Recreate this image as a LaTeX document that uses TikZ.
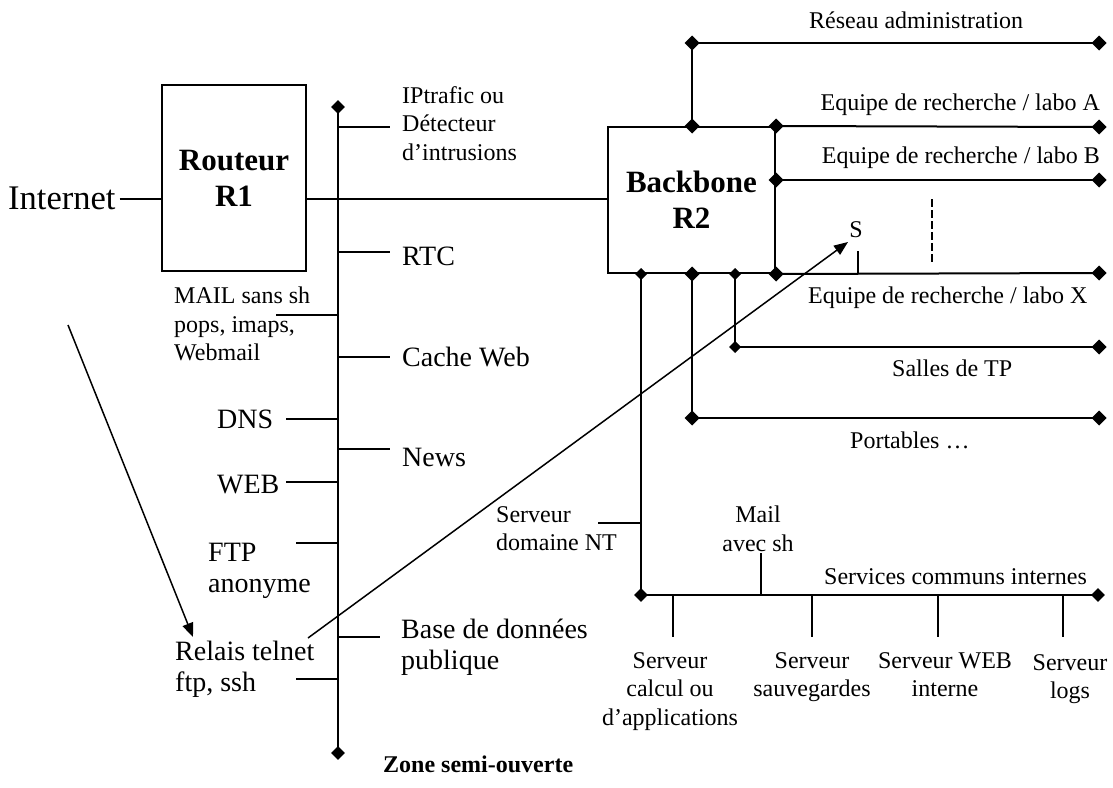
\documentclass[tikz,border=0pt]{standalone}
\usepackage{fontspec}
\setmainfont{Liberation Serif}
\usetikzlibrary{arrows.meta}
\tikzset{
 ln/.style={line width=2pt},
 tn/.style={line width=1.5pt},
 boxnode/.style={draw, line width=2pt, inner sep=0pt, font=\fontsize{31}{36}\selectfont\bfseries, align=center},
 sm/.style={inner sep=0pt, font=\fontsize{24}{28.5}\selectfont},
 md/.style={inner sep=0pt, font=\fontsize{28}{31}\selectfont},
 arr/.style={line width=1.5pt, -{Triangle[length=14pt,width=11pt]}},
}
\newcommand\dmdat[2]{\fill (#1) +(-#2,0) -- +(0,-#2) -- +(#2,0) -- +(0,#2) -- cycle;}
\begin{document}
\begin{tikzpicture}[x=1pt,y=-1pt]
\useasboundingbox (0,0) rectangle (1113,787);

% ---------- boxes ----------
\node[boxnode, minimum width=144pt, minimum height=186pt] (r1) at (234,178) {Routeur\\R1};
\node[boxnode, minimum width=167pt, minimum height=146pt] (r2) at (691.5,200) {Backbone\\R2};
\node[inner sep=0pt, font=\fontsize{34.5}{40}\selectfont, anchor=base west] (inet) at (8,209) {Internet};

\coordinate (lv) at (0,199);
\draw[ln] ([xshift=4pt]inet.east |- lv) -- (r1.west |- lv);
\draw[ln] (r1.east |- lv) -- (r2.west |- lv);

% ---------- zone semi-ouverte bus ----------
\coordinate (zt) at (338,107);
\coordinate (zb) at (338,753);
\draw[ln] (zt) -- (zb);

\coordinate (zip) at (390,127);
\coordinate (zrtc) at (390,252);
\coordinate (zcache) at (390,357);
\coordinate (znews) at (390,449);
\coordinate (zbase) at (380,637);
\coordinate (zmail) at (276,315);
\coordinate (zdns) at (286,419);
\coordinate (zweb) at (286,482);
\coordinate (zftp) at (296,543);
\coordinate (zrel) at (296,679);
\foreach \p in {zip,zrtc,zcache,znews,zbase,zmail,zdns,zweb,zftp,zrel}
  \draw[ln] (\p -| zt) -- (\p);

% ---------- backbone networks ----------
\coordinate (ad1) at (692,43);
\coordinate (ad2) at (1099,43);
\coordinate (la) at (1099,127);
\coordinate (lb) at (1099,180);
\coordinate (lx) at (1099,273);
\coordinate (st) at (735,347);
\coordinate (st2) at (1099,347);
\coordinate (pt) at (692,418);
\coordinate (pt2) at (1099,418);
\coordinate (sv) at (641,595);
\coordinate (sv2) at (1098,595);

\draw[ln] (r2.north -| ad1) -- (ad1) -- (ad2);
\draw[ln] (r2.north east) -- (la);
\draw[ln] (r2.east |- lb) -- (lb);
\draw[ln] (r2.south east) -- (lx);
\draw[ln] (r2.south -| st) -- (st) -- (st2);
\draw[ln] (r2.south -| pt) -- (pt) -- (pt2);
\draw[ln] (r2.south -| sv) -- (sv) -- (sv2);

\coordinate (nt) at (598,523);
\draw[ln] (nt) -- (nt -| sv);
\coordinate (ml) at (761,553);
\draw[tn] (ml) -- (ml |- sv);
\coordinate (s1) at (673,637);
\coordinate (s2) at (812,637);
\coordinate (s3) at (938,637);
\coordinate (s4) at (1063,637);
\foreach \p in {s1,s2,s3,s4} \draw[tn] (\p |- sv) -- (\p);

\coordinate (ss) at (858,251);
\draw[tn] (ss) -- (ss |- lx);
\coordinate (d1) at (932,199);
\coordinate (d2) at (932,263);
\draw[line width=2.6pt, dash pattern=on 8pt off 3pt] (d1) -- (d2);

% ---------- diamonds ----------
\coordinate (r2ad) at (r2.north -| ad1);
\coordinate (r2la) at (r2.north east);
\coordinate (r2lb) at (r2.east |- lb);
\coordinate (r2lx) at (r2.south east);
\coordinate (r2pt) at (r2.south -| pt);
\coordinate (r2st) at (r2.south -| st);
\coordinate (r2sv) at (r2.south -| sv);
\foreach \p in {ad1,ad2,la,lb,lx,pt,st2,pt2,r2ad,r2la,r2lb,r2lx,r2pt}
  {\dmdat{\p}{7.5}}
\foreach \p in {r2st,r2sv,st}
  {\dmdat{\p}{6}}
\foreach \p in {zt,zb,sv,sv2}
  {\dmdat{\p}{6.8}}

% ---------- arrows ----------
\coordinate (a1s) at (68,325);
\coordinate (a1e) at (193,637);
\draw[arr] (a1s) -- (a1e);
\coordinate (a2s) at (308,638);
\coordinate (a2e) at (848,242);
\draw[arr] (a2s) -- (a2e);

% ---------- texts: zone ----------
\node[sm, anchor=north west, align=left] (tip) at (402,86) {IPtrafic ou\\Détecteur\\d’intrusions};
\node[md, anchor=base west] (trtc) at (402,265) {RTC};
\node[md, anchor=base west] (tcache) at (402,366) {Cache Web};
\node[md, anchor=base west] (tnews) at (402,466) {News};
\node[md, anchor=north west, align=left] (tbase) at (401,619) {Base de données\\publique};
\node[sm, anchor=north west, align=left] (tmail) at (174,287) {MAIL sans sh\\pops, imaps,\\Webmail};
\node[md, anchor=base west] (tdns) at (217,428) {DNS};
\node[md, anchor=base west] (tweb) at (217,493) {WEB};
\node[md, anchor=north west, align=left] (tftp) at (208,543) {FTP\\anonyme};
\node[md, anchor=north west, align=left] (trel) at (175,641) {Relais telnet\\ftp, ssh};
\node[inner sep=0pt, font=\fontsize{24}{28}\selectfont\bfseries, anchor=base west] (tzone) at (383,772) {Zone semi-ouverte};

% ---------- texts: backbone ----------
\node[sm, anchor=base west] (tadm) at (809,28) {Réseau administration};
\node[sm, anchor=base east] (tla) at (1100,110) {Equipe de recherche / labo A};
\node[sm, anchor=base east] (tlb) at (1100,163) {Equipe de recherche / labo B};
\node[sm, anchor=base west] (tlx) at (808,303) {Equipe de recherche / labo X};
\node[sm, anchor=base] (ts) at (856,237) {S};
\node[sm, anchor=base west] (tsalles) at (892,376) {Salles de TP};
\node[sm, anchor=base west] (tport) at (850,448) {Portables …};
\node[sm, anchor=north west, align=left] (tnt) at (496,506) {Serveur\\domaine NT};
\node[sm, anchor=north, align=center] (tml) at (758,506) {Mail\\avec sh};
\node[sm, anchor=base west] (tsvc) at (824,584) {Services communs internes};
\node[sm, anchor=north, align=center] (tsv1) at (670,652) {Serveur\\calcul ou\\d’applications};
\node[sm, anchor=north, align=center] (tsv2) at (812,652) {Serveur\\sauvegardes};
\node[sm, anchor=north, align=center] (tsv3) at (945,652) {Serveur WEB\\interne};
\node[sm, anchor=north, align=center] (tsv4) at (1070,654) {Serveur\\logs};
\end{tikzpicture}
\end{document}
